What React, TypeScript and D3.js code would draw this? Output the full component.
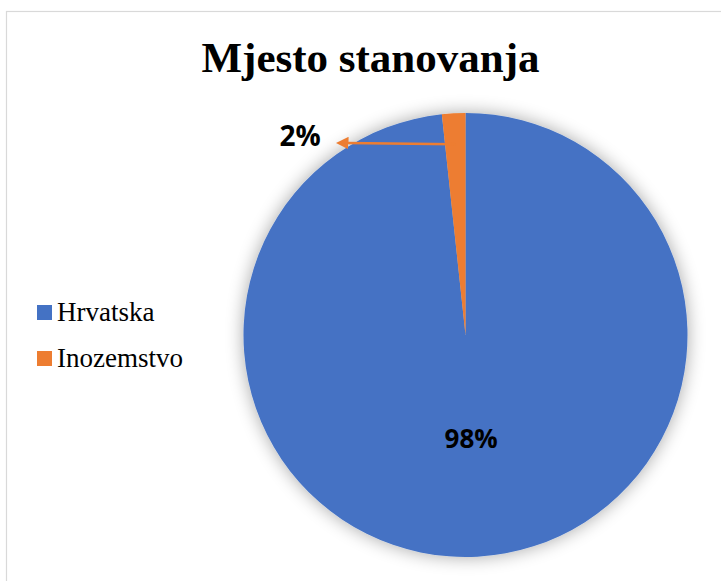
import React from "react";
import * as d3 from "d3";

const categories = ["Hrvatska", "Inozemstvo"];
const values = [98.3, 1.7];
const labels = ["98%", "2%"];
const colors = ["#4472C4", "#ED7D31"];
const title = "Mjesto stanovanja";

const serif = "'Liberation Serif', 'Times New Roman', serif";
const sans = "'Open Sans', 'DejaVu Sans', sans-serif";

export default function App() {
  const W = 721, H = 581;
  const cx = 465.5, cy = 335, r = 222;
  const pie = d3.pie<number>().sort(null).startAngle(0).endAngle(2 * Math.PI);
  const arcs = pie(values);
  const arcGen = d3.arc<d3.PieArcDatum<number>>().innerRadius(0).outerRadius(r);
  const c0 = d3.arc<d3.PieArcDatum<number>>().innerRadius(0).outerRadius(r * 0.95).centroid(arcs[0]);
  const mid1 = (arcs[1].startAngle + arcs[1].endAngle) / 2;
  const lx0 = cx + Math.sin(mid1) * r * 0.86;
  const ly0 = cy - Math.cos(mid1) * r * 0.86;
  return (
    <svg width={W} height={H} style={{ position: "absolute", left: 0, top: 0 }}>
      <defs>
        <filter id="glow" x="-20%" y="-20%" width="140%" height="140%">
          <feGaussianBlur in="SourceAlpha" stdDeviation="9" />
          <feComponentTransfer>
            <feFuncA type="linear" slope="0.35" />
          </feComponentTransfer>
          <feMerge>
            <feMergeNode />
            <feMergeNode in="SourceGraphic" />
          </feMerge>
        </filter>
        <marker id="arrow" viewBox="0 0 10 10" refX="2" refY="5" markerWidth="5" markerHeight="5" orient="auto-start-reverse">
          <path d="M0,0 L10,5 L0,10 z" fill={colors[1]} />
        </marker>
      </defs>
      <rect x={0} y={0} width={W} height={H} fill="#fff" />
      <rect x={6.5} y={11.5} width={W + 20} height={H + 20} fill="#fff" stroke="#d9d9d9" strokeWidth={1.2} />
      <text x={370.5} y={72} textAnchor="middle" style={{ fontFamily: serif }} fontWeight="bold" fontSize={43} fill="#000">{title}</text>
      <g transform={`translate(${cx},${cy})`} filter="url(#glow)">
        {arcs.map((a, i) => (
          <path key={categories[i]} d={arcGen(a) || ""} fill={colors[i]} />
        ))}
      </g>
      <text x={cx + c0[0]} y={cy + c0[1] + 8} textAnchor="middle" style={{ fontFamily: sans }} fontWeight="bold" fontSize={26} fill="#000">{labels[0]}</text>
      <line x1={lx0} y1={ly0} x2={346} y2={143} stroke={colors[1]} strokeWidth={2.5} markerEnd="url(#arrow)" />
      <text x={300} y={146} textAnchor="middle" style={{ fontFamily: sans }} fontWeight="bold" fontSize={28} fill="#000">{labels[1]}</text>
      {categories.map((c, i) => (
        <g key={c} transform={`translate(37,${305 + i * 46})`}>
          <rect x={0} y={0} width={15} height={15} fill={colors[i]} />
          <text x={20} y={16} style={{ fontFamily: serif }} fontSize={27} fill="#000">{c}</text>
        </g>
      ))}
    </svg>
  );
}
